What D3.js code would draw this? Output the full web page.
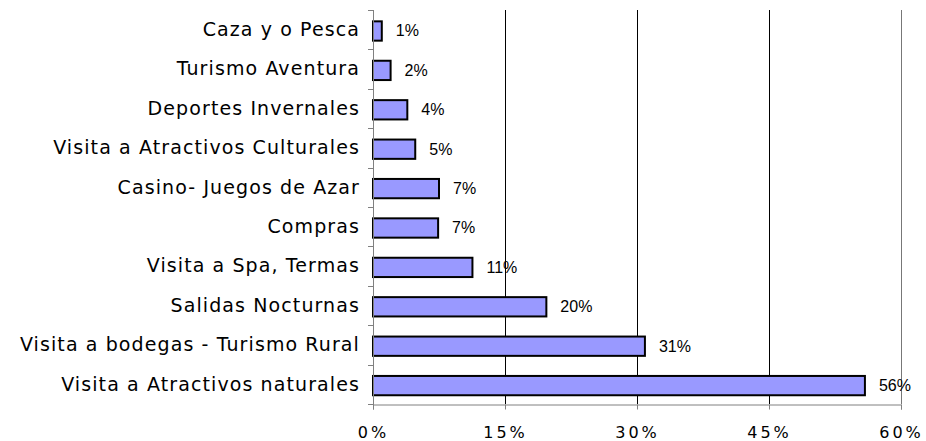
<!DOCTYPE html>
<html>
<head>
<meta charset="utf-8">
<script src="https://cdn.jsdelivr.net/npm/d3@7"></script>
<style>
  body { margin: 0; background: #fff; }
  svg { display: block; }
</style>
</head>
<body>
<div id="chart"></div>
<script>
// categories top to bottom, as in the picture
const categories = ['Caza y o Pesca', 'Turismo Aventura', 'Deportes Invernales',
    'Visita a Atractivos Culturales', 'Casino- Juegos de Azar', 'Compras',
    'Visita a Spa, Termas', 'Salidas Nocturnas', 'Visita a bodegas - Turismo Rural',
    'Visita a Atractivos naturales'];
const values = [1.0, 2.0, 3.9, 4.8, 7.5, 7.4, 11.3, 19.7, 30.9, 55.9];
const valueLabels = ['1%', '2%', '4%', '5%', '7%', '7%', '11%', '20%', '31%', '56%'];
const xTicks = [0, 15, 30, 45, 60];

const width = 926;
const height = 441;
const margin = {top: 10, right: 25, bottom: 37, left: 373};

const svg = d3.select('#chart').append('svg')
    .attr('width', width)
    .attr('height', height);

const x = d3.scaleLinear()
    .domain([0, 60])
    .range([margin.left, width - margin.right]);

const y = d3.scaleBand()
    .domain(categories)
    .range([margin.top, height - margin.bottom])
    .padding(0);

const barH = y.bandwidth() * 0.49;

// vertical grid lines
svg.append('g')
    .selectAll('line')
    .data(xTicks.slice(1))
    .join('line')
        .attr('x1', d => x(d) + 0.5)
        .attr('x2', d => x(d) + 0.5)
        .attr('y1', margin.top)
        .attr('y2', height - margin.bottom)
        .attr('stroke', d => d === 60 ? '#777' : '#000')
        .attr('stroke-width', 1);

// bars
svg.append('g')
    .selectAll('rect')
    .data(categories)
    .join('rect')
        .attr('x', x(0))
        .attr('y', (d, i) => y(d) + (y.bandwidth() - barH) / 2 + 1.3)
        .attr('width', (d, i) => x(values[i]) - x(0))
        .attr('height', barH)
        .attr('fill', '#9999ff')
        .attr('stroke', '#000')
        .attr('stroke-width', 2);

// value labels
svg.append('g')
    .selectAll('text')
    .data(categories)
    .join('text')
        .attr('x', (d, i) => x(values[i]) + 14)
        .attr('y', d => y(d) + y.bandwidth() / 2 + 1)
        .attr('dy', '0.35em')
        .attr('font-family', 'Liberation Sans, Arial, sans-serif')
        .attr('font-size', 16)
        .attr('fill', '#000')
        .text((d, i) => valueLabels[i]);

// left axis line and ticks
const yAxis = svg.append('g');
yAxis.append('line')
    .attr('x1', x(0) + 0.5).attr('x2', x(0) + 0.5)
    .attr('y1', margin.top).attr('y2', height - margin.bottom + 5)
    .attr('stroke', '#808080');
const bounds = categories.map(d => y(d)).concat([height - margin.bottom]);
yAxis.selectAll('.ytick')
    .data(bounds)
    .join('line')
        .attr('class', 'ytick')
        .attr('x1', x(0) - 5).attr('x2', x(0))
        .attr('y1', d => Math.round(d) + 0.5)
        .attr('y2', d => Math.round(d) + 0.5)
        .attr('stroke', '#808080');

yAxis.selectAll('.ylabel')
    .data(categories)
    .join('text')
        .attr('class', 'ylabel')
        .attr('x', x(0) - 13)
        .attr('y', d => y(d) + y.bandwidth() / 2)
        .attr('dy', '0.33em')
        .attr('text-anchor', 'end')
        .attr('font-family', 'DejaVu Sans, Verdana, sans-serif')
        .attr('font-size', 19)
        .attr('letter-spacing', 1.1)
        .attr('fill', '#000')
        .text(d => d);

// bottom axis
const xAxis = svg.append('g')
    .attr('transform', `translate(0, ${height - margin.bottom + 0.5})`)
    .call(d3.axisBottom(x).tickValues(xTicks).tickSize(5).tickFormat(d => d + '%'));
xAxis.select('.domain').attr('stroke', '#808080');
xAxis.selectAll('.tick line').attr('stroke', '#808080');
xAxis.selectAll('.tick text')
    .attr('y', 22)
    .attr('font-family', 'DejaVu Sans, Verdana, sans-serif')
    .attr('font-size', 16)
    .attr('letter-spacing', 3)
    .attr('fill', '#000');
</script>
</body>
</html>
